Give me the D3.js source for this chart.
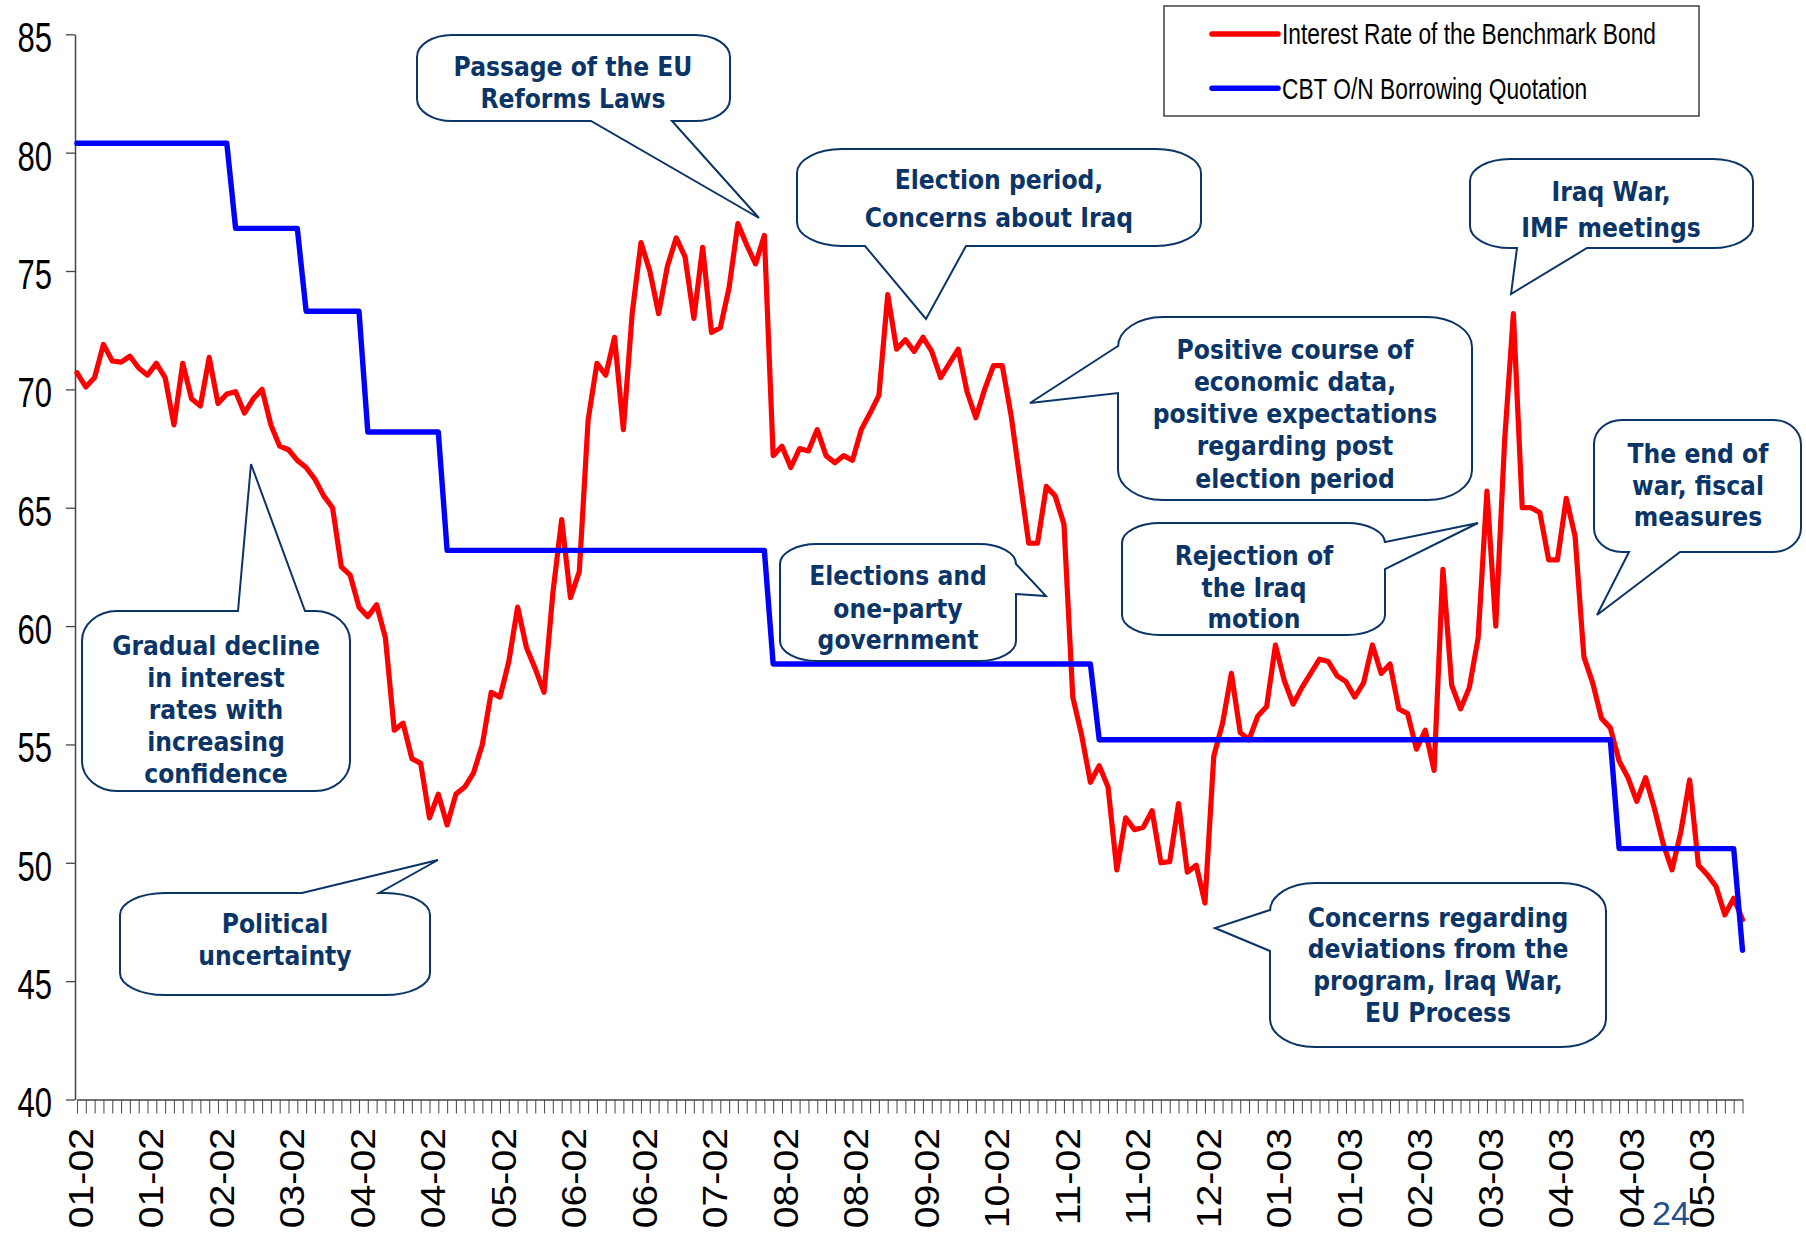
<!DOCTYPE html>
<html><head><meta charset="utf-8">
<script src="https://cdn.jsdelivr.net/npm/d3@7"></script>
<style>body{margin:0;background:#fff}svg{display:block}</style>
</head><body>
<svg id="c" width="1806" height="1233"></svg>
<script>
// ---------- data ----------
const tickLabels = ["01-02","01-02","02-02","03-02","04-02","04-02","05-02","06-02","06-02","07-02","08-02","08-02",
  "09-02","10-02","11-02","11-02","12-02","01-03","01-03","02-03","03-03","04-03","04-03","05-03"];
const labelEvery = 8;
const seriesNames = ["Interest Rate of the Benchmark Bond","CBT O/N Borrowing Quotation"];
const yTicks = [40,45,50,55,60,65,70,75,80,85];
const bondRate = [
  70.7,70.1,70.5,71.9,71.2,71.15,71.4,70.9,70.6,71.1,
  70.5,68.5,71.1,69.6,69.3,71.35,69.4,69.8,69.9,69.0,
  69.6,70.0,68.5,67.6,67.45,67.0,66.7,66.2,65.5,65.0,
  62.5,62.15,60.8,60.4,60.9,59.5,55.6,55.9,54.4,54.2,
  51.9,52.9,51.6,52.9,53.2,53.8,55.0,57.2,57.0,58.5,
  60.8,59.1,58.2,57.2,61.4,64.5,61.2,62.3,68.7,71.1,
  70.6,72.2,68.3,73.2,76.2,75.0,73.2,75.2,76.4,75.6,
  73.0,76.0,72.4,72.6,74.3,77.0,76.1,75.3,76.5,67.2,
  67.6,66.7,67.5,67.4,68.3,67.2,66.9,67.2,67.0,68.3,
  69.0,69.75,74.0,71.7,72.1,71.6,72.2,71.6,70.5,71.1,
  71.7,69.9,68.8,70.0,71.0,71.0,68.9,66.2,63.5,63.5,
  65.9,65.5,64.3,57.0,55.4,53.4,54.1,53.2,49.7,51.9,
  51.4,51.5,52.2,50.0,50.05,52.5,49.6,49.9,48.3,54.5,
  55.9,58.0,55.5,55.2,56.2,56.6,59.2,57.7,56.7,57.4,
  58.0,58.6,58.5,57.9,57.65,57.0,57.6,59.2,58.0,58.4,
  56.5,56.3,54.8,55.6,53.9,62.4,57.5,56.5,57.4,59.5,
  65.7,60.0,67.8,73.2,65.0,65.0,64.8,62.8,62.8,65.4,
  63.8,58.7,57.6,56.1,55.7,54.3,53.6,52.6,53.6,52.3,
  50.8,49.7,51.3,53.5,49.9,49.5,49.0,47.8,48.5,47.6];
// CBT rate: observations at the days where the quoted rate changes (step series)
const cbtIdx = [0,17,18,25,26,32,33,41,42,78,79,115,116,174,175,188,189];
const cbtVal = [80.4,80.4,76.8,76.8,73.3,73.3,68.2,68.2,63.2,63.2,58.4,58.4,55.2,55.2,50.6,50.6,46.3];

const callouts = [
  {lines:["Passage of the EU","Reforms Laws"], box:[417,35,730,121], r:[35,22], side:"bottom", base:[591,672], tip:[759,218], cx:573, ly:[66,98]},
  {lines:["Election period,","Concerns about Iraq"], box:[797,149,1201,246], r:[45,24], side:"bottom", base:[865,966], tip:[926,319], cx:999, ly:[179,217]},
  {lines:["Positive course of","economic data,","positive expectations","regarding post","election period"], box:[1118,317,1472,500], r:[45,30], side:"left", base:[346,393], tip:[1030,403], cx:1295, ly:[349,381,413,445,478]},
  {lines:["Rejection of","the Iraq","motion"], box:[1122,523,1385,635], r:[38,20], side:"right", base:[542,569], tip:[1478,523], cx:1254, ly:[555,587,618]},
  {lines:["Iraq War,","IMF meetings"], box:[1470,159,1753,248], r:[40,22], side:"bottom", base:[1517,1587], tip:[1511,294], cx:1611, ly:[191,227]},
  {lines:["The end of","war, fiscal","measures"], box:[1594,420,1801,552], r:[28,24], side:"bottom", base:[1629,1680], tip:[1597,615], cx:1698, ly:[453,485,516]},
  {lines:["Gradual decline","in interest","rates with","increasing","confidence"], box:[82,611,350,791], r:[35,30], side:"top", base:[238,305], tip:[251,464], cx:216, ly:[645,677,709,741,773]},
  {lines:["Political","uncertainty"], box:[120,893,430,995], r:[45,22], side:"top", base:[302,379], tip:[438,860], cx:275, ly:[923,955]},
  {lines:["Elections and","one-party","government"], box:[780,544,1016,661], r:[37,20], side:"right", base:[564,594], tip:[1046,596], cx:898, ly:[575,608,639]},
  {lines:["Concerns regarding","deviations from the","program, Iraq War,","EU Process"], box:[1270,883,1606,1047], r:[45,28], side:"left", base:[910,951], tip:[1215,928], cx:1438, ly:[917,948,980,1012]}
];

// ---------- drawing ----------
const svg = d3.select("#c");
const N = bondRate.length;
const x = d3.scaleLinear().domain([0, N-1]).range([77, 1742.5]);
const y = d3.scaleLinear().domain([40, 85]).range([1099.5, 34.3]);
const axisCol = "#444";

// y axis
const gy = svg.append("g").attr("transform","translate(75,0)")
  .call(d3.axisLeft(y).tickValues(yTicks).tickSize(9).tickSizeOuter(0).tickFormat(d3.format("d")));
gy.select(".domain").attr("stroke",axisCol).attr("stroke-width",1.5);
gy.selectAll(".tick line").attr("stroke",axisCol).attr("stroke-width",1.3);
gy.selectAll(".tick text").attr("x",null).attr("dy",null)
  .attr("transform","translate(-23,17.4) scale(0.74,1)")
  .attr("font-family","'Liberation Sans', Arial, sans-serif").attr("font-size",42)
  .attr("fill","#000").attr("text-anchor","end");

// x axis
const gx = svg.append("g").attr("transform","translate(0,1099.5)")
  .call(d3.axisBottom(x).tickValues(d3.range(N)).tickSize(14).tickSizeOuter(0)
    .tickFormat(i => i % labelEvery === 0 ? (tickLabels[i/labelEvery] || "") : ""));
gx.select(".domain").attr("stroke",axisCol).attr("stroke-width",1.5);
gx.selectAll(".tick line").attr("stroke","#555").attr("stroke-width",1.1);
gx.selectAll(".tick text").attr("y",null).attr("dy",null)
  .attr("transform","translate(15.5,28.5) rotate(-90) scale(1.12,1)")
  .attr("font-family","'Liberation Sans', Arial, sans-serif").attr("font-size",35)
  .attr("fill","#000").attr("text-anchor","end");

// lines
const lineGen = d3.line().x(d => x(d[0])).y(d => y(d[1]));
svg.append("path").datum(bondRate.map((v,i)=>[i,v]))
  .attr("d", lineGen).attr("fill","none").attr("stroke","#ff0000")
  .attr("stroke-width",5.2).attr("stroke-linejoin","round").attr("stroke-linecap","round");
svg.append("path").datum(cbtIdx.map((d,i)=>[d,cbtVal[i]]))
  .attr("d", lineGen).attr("fill","none").attr("stroke","#0000ff")
  .attr("stroke-width",5.4).attr("stroke-linejoin","round").attr("stroke-linecap","round");

// legend
const lg = svg.append("g");
lg.append("rect").attr("x",1164).attr("y",6).attr("width",535).attr("height",110)
  .attr("fill","#fff").attr("stroke","#333").attr("stroke-width",1.4);
const legCols = ["#ff0000","#0000ff"];
seriesNames.forEach((s,k) => {
  const cy = 34 + k*54.3;
  lg.append("line").attr("x1",1212).attr("x2",1278).attr("y1",cy).attr("y2",cy)
    .attr("stroke",legCols[k]).attr("stroke-width",5.5).attr("stroke-linecap","round");
  lg.append("text").attr("transform",`translate(1282,${cy+10.4}) scale(0.784,1)`)
    .attr("font-family","'Liberation Sans', Arial, sans-serif").attr("font-size",29)
    .attr("fill","#000").text(s);
});

// callouts
const navy = "#0b3467";
function calloutPath(c){
  const [x0,y0,x1,y1] = c.box, [rx,ry] = c.r, [b1,b2] = c.base, [tx,ty] = c.tip;
  let p = `M${x0+rx},${y0}`;
  if (c.side==="top") p += `L${b1},${y0}L${tx},${ty}L${b2},${y0}`;
  p += `L${x1-rx},${y0}A${rx},${ry} 0 0 1 ${x1},${y0+ry}`;
  if (c.side==="right") p += `L${x1},${b1}L${tx},${ty}L${x1},${b2}`;
  p += `L${x1},${y1-ry}A${rx},${ry} 0 0 1 ${x1-rx},${y1}`;
  if (c.side==="bottom") p += `L${b2},${y1}L${tx},${ty}L${b1},${y1}`;
  p += `L${x0+rx},${y1}A${rx},${ry} 0 0 1 ${x0},${y1-ry}`;
  if (c.side==="left") p += `L${x0},${b2}L${tx},${ty}L${x0},${b1}`;
  p += `L${x0},${y0+ry}A${rx},${ry} 0 0 1 ${x0+rx},${y0}Z`;
  return p;
}
const cg = svg.append("g");
callouts.forEach(c => {
  cg.append("path").attr("d", calloutPath(c)).attr("fill","#fff")
    .attr("stroke",navy).attr("stroke-width",2).attr("stroke-linejoin","miter");
  c.lines.forEach((t,k) => {
    cg.append("text").attr("transform",`translate(${c.cx},${c.ly[k]+9.8}) scale(1,1.13)`)
      .attr("text-anchor","middle").attr("font-family","'DejaVu Sans', Verdana, sans-serif")
      .attr("font-weight","bold").attr("font-size",23.5).attr("fill",navy).text(t);
  });
});

// page number
svg.append("text").attr("x",1652).attr("y",1225)
  .attr("font-family","'Liberation Sans', Arial, sans-serif").attr("font-size",34)
  .attr("fill","#23508a").text("24");
</script>
</body></html>
